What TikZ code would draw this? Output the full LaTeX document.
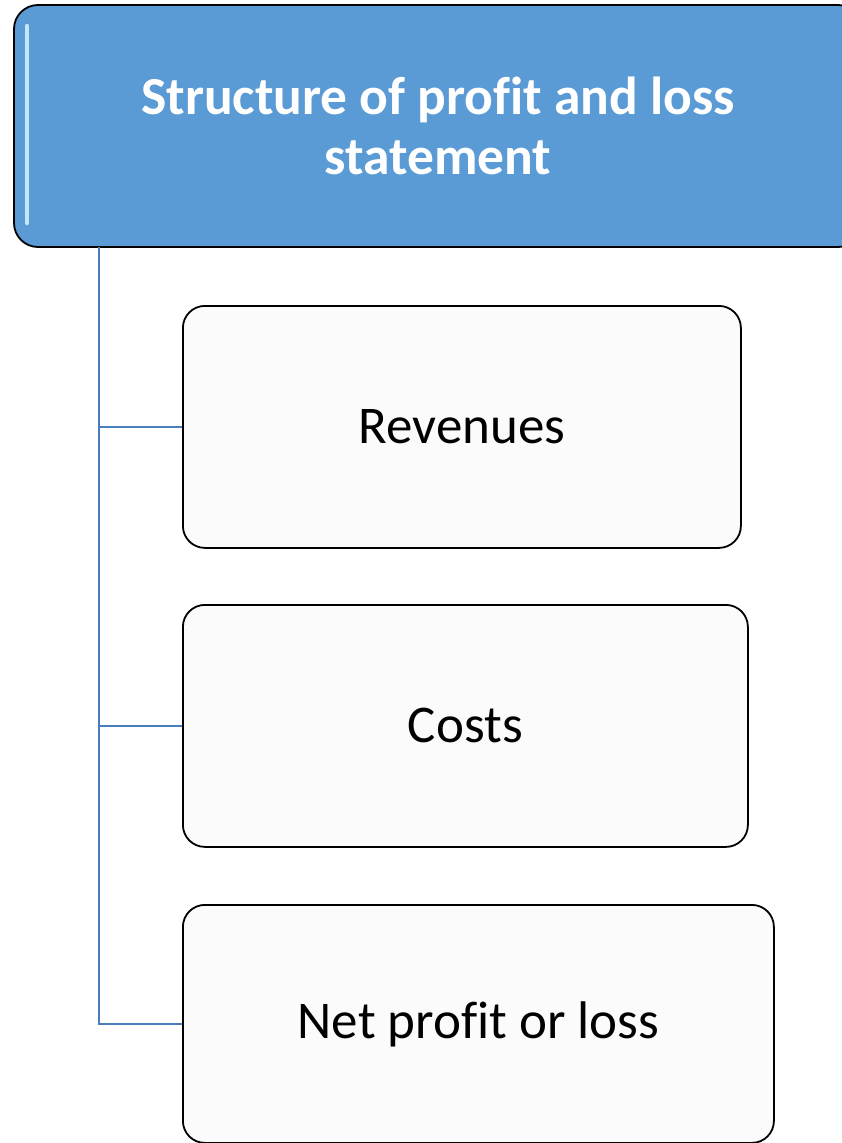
\documentclass[tikz,border=0pt]{standalone}
\usepackage{fontspec}
\setmainfont[Ligatures=NoCommon]{Carlito}
\usepackage{tikz}
\usetikzlibrary{positioning}

\definecolor{headblue}{HTML}{5B9BD5}
\definecolor{linkblue}{HTML}{4A7EBB}
\definecolor{leafgray}{HTML}{FBFBFB}
\definecolor{glossblue}{HTML}{C4E6FF}

\tikzset{
  head/.style={draw=black, line width=1.8pt, fill=headblue, rounded corners=24pt,
    text=white, font=\fontsize{53.5}{60}\selectfont\bfseries, align=center,
    minimum width=848pt, minimum height=242pt, inner sep=0pt},
  leaf/.style={draw=black, line width=1.8pt, fill=leafgray, rounded corners=22pt,
    font=\fontsize{53}{60}\selectfont, minimum height=242pt, inner sep=0pt, anchor=north west},
  link/.style={draw=linkblue, line width=2.8pt}
}

\begin{document}
\begin{tikzpicture}[x=1pt, y=-1pt]
    \useasboundingbox (0,0) rectangle (841,1143);

    % Title box
    \node[head] (title) at (438,126) {Structure of profit and loss\\statement};
    % Gloss on the left side
    \draw[glossblue, line width=4.5pt, line cap=round] (27,26) -- (27,223);

    % Items
    \node[leaf, minimum width=558pt] (rev) at (182,305) {Revenues};
    \node[leaf, minimum width=565pt] (cost) at (182,604) {Costs};
    \node[leaf, minimum width=591pt, minimum height=238pt] (net) at (182,904) {Net profit or loss};

    % Connectors
    \coordinate (trunk) at (99,247);
    \foreach \n in {rev, cost, net} {
      \draw[link] (trunk) |- (\n.west);
    }
\end{tikzpicture}
\end{document}
